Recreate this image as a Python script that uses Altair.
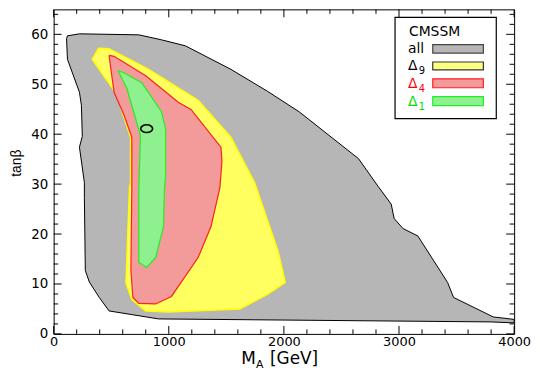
import altair as alt
import pandas as pd

# ---- data ----
gray_x = [112, 120, 224, 740, 937, 1144, 1539, 1857, 2132, 2648, 2820, 2932, 2958, 3035, 3164,
          3422, 3474, 3818, 4000, 4000, 3800, 911, 481, 396, 310, 275, 267, 267, 224, 249, 241, 224, 120, 112]
gray_y = [59.1, 59.7, 60.1, 59.9, 58.9, 57.7, 53.0, 48.6, 44.5, 35.1, 29.5, 26.0, 23.1, 21.1, 19.6,
          10.3, 7.3, 3.4, 2.9, 2.2, 2.4, 3.0, 4.6, 7.3, 10.4, 12.7, 27.3, 30.3, 37.4, 39.6, 45.8, 48.4, 55.0, 59.1]

yel_x = [335, 390, 481, 825, 1255, 1539, 1745, 1950, 2012, 1857, 1617, 997, 800, 679, 628, 659, 668, 668, 542, 335]
yel_y = [55.0, 57.2, 57.1, 53.0, 46.8, 39.4, 30.3, 16.5, 10.3, 7.9, 5.0, 4.4, 4.6, 6.9, 10.2, 29.3, 30.3, 39.4, 48.2, 55.0]

red_x = [481, 525, 800, 1083, 1195, 1453, 1462, 1444, 1367, 1255, 1023, 886, 740, 688, 671, 679, 679, 610, 525, 481]
red_y = [55.8, 55.6, 51.7, 46.4, 44.9, 37.4, 34.7, 29.3, 21.5, 15.3, 7.5, 6.0, 6.1, 7.3, 12.8, 29.3, 39.4, 43.9, 48.4, 55.8]

grn_x = [559, 610, 765, 937, 972, 972, 963, 954, 886, 808, 740, 740, 754, 636, 559]
grn_y = [52.7, 52.3, 50.3, 44.5, 41.0, 31.6, 29.3, 21.5, 15.3, 13.3, 14.3, 29.3, 39.7, 49.2, 52.7]

best_x = [808]
best_y = [41.1]

x_major = [0, 1000, 2000, 3000, 4000]
x_minor = [200, 400, 600, 800, 1200, 1400, 1600, 1800, 2200, 2400, 2600, 2800,
           3200, 3400, 3600, 3800]
y_major = [0, 10, 20, 30, 40, 50, 60]
y_minor = [2, 4, 6, 8, 12, 14, 16, 18, 22, 24, 26, 28, 32, 34, 36, 38,
           42, 44, 46, 48, 52, 54, 56, 58, 62, 64]

W, H = 464, 327
FONT = "DejaVu Sans"

xs = alt.Scale(domain=[0, 4000], nice=False, zero=False)
ys = alt.Scale(domain=[0, 65], nice=False, zero=False)
xaxis = alt.Axis(values=x_major, title=None, ticks=False, tickSize=0, domain=False, grid=False,
                 labelFont=FONT, labelFontSize=13, labelColor="black", labelPadding=2,
                 labelFlush=False, format="d")
yaxis = alt.Axis(values=y_major, title=None, ticks=False, tickSize=0, domain=False, grid=False,
                 labelFont=FONT, labelFontSize=13.5, labelColor="black", labelPadding=6,
                 labelFlush=False, format="d")


def X(f):
    return alt.X(f, scale=xs, axis=xaxis)


def Y(f):
    return alt.Y(f, scale=ys, axis=yaxis)


def poly(xv, yv, fill, stroke, sw=1.0):
    df = pd.DataFrame({"x": xv, "y": yv, "i": list(range(len(xv)))})
    return alt.Chart(df).mark_line(fill=fill, stroke=stroke, strokeWidth=sw).encode(
        x=X("x:Q"), y=Y("y:Q"), order="i:Q",
    )


GRAY = "#b6b6b6"
gray = poly(gray_x, gray_y, GRAY, "black", 1.0)
yel = poly(yel_x, yel_y, "#ffff60", "#ffff00", 1.5)
red = poly(red_x, red_y, "#f39a9a", "#ff2020", 1.2)
grn = poly(grn_x, grn_y, "#8ef08e", "#22ee22", 1.2)

best = alt.Chart(pd.DataFrame({"x": best_x, "y": best_y})).mark_point(
    shape="M-1,0A1,0.65,0,1,0,1,0A1,0.65,0,1,0,-1,0Z", size=144, filled=False,
    stroke="black", strokeWidth=1.6, opacity=1).encode(x=X("x:Q"), y=Y("y:Q"))


def xticks(vals, length):
    df = pd.DataFrame({"v": vals})
    bot = alt.Chart(df).mark_rule(color="black", strokeWidth=1).encode(
        x=X("v:Q"), y=alt.value(H), y2=alt.value(H - length))
    top = alt.Chart(df).mark_rule(color="black", strokeWidth=1).encode(
        x=X("v:Q"), y=alt.value(0), y2=alt.value(length))
    return [bot, top]


def yticks(vals, length):
    df = pd.DataFrame({"v": vals})
    left = alt.Chart(df).mark_rule(color="black", strokeWidth=1).encode(
        y=Y("v:Q"), x=alt.value(0), x2=alt.value(length))
    right = alt.Chart(df).mark_rule(color="black", strokeWidth=1).encode(
        y=Y("v:Q"), x=alt.value(W), x2=alt.value(W - length))
    return [left, right]


ticks = xticks(x_major, 8) + xticks(x_minor, 4.5) + yticks(y_major, 8) + yticks(y_minor, 4.5)

one = pd.DataFrame({"a": [0]})


def txt(s, x, y, size, color="black", font=FONT, angle=0, align="left", baseline="alphabetic"):
    return alt.Chart(one).mark_text(text=s, font=font, fontSize=size, color=color, angle=angle,
                                    align=align, baseline=baseline).encode(
        x=alt.value(x), y=alt.value(y))


def box(x1, x2, y1, y2, fill, stroke, sw=1.0):
    return alt.Chart(one).mark_rect(fill=fill, stroke=stroke, strokeWidth=sw).encode(
        x=alt.value(x1), x2=alt.value(x2), y=alt.value(y1), y2=alt.value(y2))


legend = [
    box(344, 446, 8, 110, "white", "black", 1.2),
    txt("CMSSM", 358, 27, 14),
    txt("all", 357, 44, 14),
    box(382, 433, 35.5, 44, GRAY, "#444444", 1.2),
    txt("Δ", 357, 61, 14),
    txt("9", 368, 65, 10),
    box(382, 433, 53, 61, "#ffff80", "#333333", 1.2),
    txt("Δ", 357, 79, 14, color="#ff0000"),
    txt("4", 368, 83, 10, color="#ff0000"),
    box(382, 433, 70, 79, "#f39a9a", "#ff2020", 1.2),
    txt("Δ", 357, 97, 14, color="#00dd00"),
    txt("1", 368, 101, 10, color="#00dd00"),
    box(382, 433, 88, 97, "#8ef08e", "#22ee22", 1.2),
]

titles = [
    txt("M", 189, 357.5, 17),
    txt("A", 204, 361, 11),
    txt("[GeV]", 218, 357.5, 17),
    txt("tanβ", -37, 155, 14, font="Liberation Sans", angle=270, align="center", baseline="middle"),
]

chart = alt.layer(gray, yel, red, grn, best, *ticks, *legend, *titles).properties(
    width=W, height=H,
    autosize=alt.AutoSizeParams(type="none"),
    padding={"left": 46, "top": 0, "right": 18, "bottom": 36},
).configure_view(stroke="black", strokeWidth=1)

chart.save("out.html", embed_options={"renderer": "svg", "actions": False})
